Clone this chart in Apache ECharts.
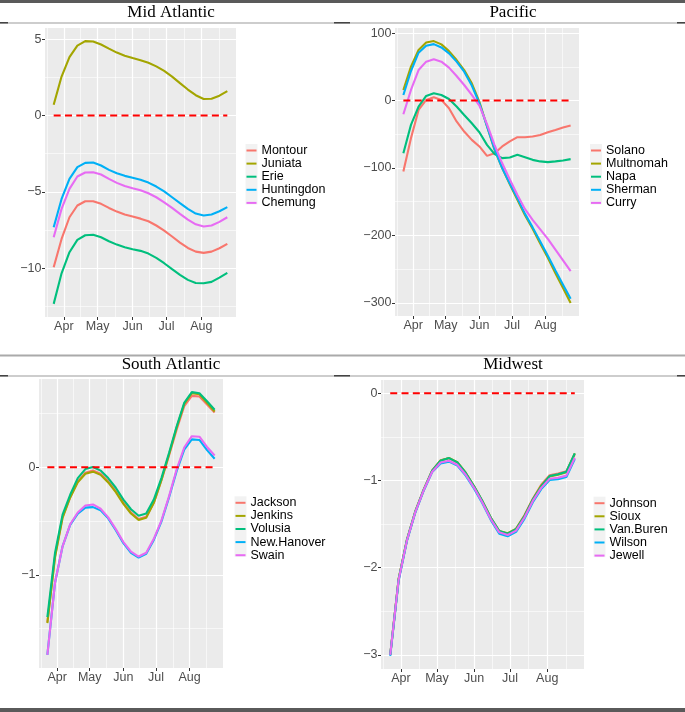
<!DOCTYPE html>
<html>
<head>
<meta charset="utf-8">
<script src="https://cdn.jsdelivr.net/npm/echarts@6/dist/echarts.min.js"></script>
<style>
html,body{margin:0;padding:0;background:#fff;}
#chart{width:685px;height:712px;}
</style>
</head>
<body>
<div id="chart"></div>
<script>
// ---- shared x axis (day of year, weekly points) ----
const weekDays = [82, 89, 96, 103, 110, 117, 124, 131, 138, 145, 152, 159, 166, 173, 180, 187, 194, 201, 208, 215, 222, 229, 236];
const monthTicks = [91, 121, 152, 182, 213];
const monthLabels = ['Apr', 'May', 'Jun', 'Jul', 'Aug'];
const monthMinor = [76, 106, 136.5, 167, 197.5, 228.5];

// ---- Mid Atlantic ----
const midAtlNames = ['Montour', 'Juniata', 'Erie', 'Huntingdon', 'Chemung'];
const montour = [-9.93, -8.08, -6.66, -5.89, -5.61, -5.61, -5.78, -6.05, -6.29, -6.48, -6.61, -6.75, -6.92, -7.20, -7.53, -7.92, -8.32, -8.67, -8.91, -8.99, -8.91, -8.69, -8.40];
const juniata = [0.70, 2.55, 3.82, 4.58, 4.87, 4.85, 4.65, 4.38, 4.12, 3.92, 3.76, 3.62, 3.45, 3.22, 2.92, 2.55, 2.12, 1.70, 1.33, 1.08, 1.10, 1.30, 1.60];
const erie = [-12.33, -10.33, -8.95, -8.14, -7.84, -7.81, -7.97, -8.23, -8.45, -8.62, -8.75, -8.86, -9.04, -9.32, -9.67, -10.06, -10.43, -10.76, -10.96, -10.98, -10.89, -10.61, -10.30];
const huntingdon = [-7.31, -5.46, -4.15, -3.38, -3.10, -3.08, -3.27, -3.56, -3.78, -3.95, -4.08, -4.21, -4.39, -4.65, -4.96, -5.35, -5.74, -6.11, -6.42, -6.55, -6.48, -6.27, -6.00];
const chemung = [-7.97, -6.11, -4.80, -3.99, -3.73, -3.71, -3.86, -4.15, -4.41, -4.61, -4.76, -4.89, -5.09, -5.35, -5.68, -6.05, -6.44, -6.81, -7.12, -7.27, -7.20, -6.96, -6.66];
const midAtlMajor = [-10, -5, 0, 5];
const midAtlMinor = [-12.5, -7.5, -2.5, 2.5];

// ---- Pacific ----
const pacificNames = ['Solano', 'Multnomah', 'Napa', 'Sherman', 'Curry'];
const solano = [-105, -55.7, -13.9, 1, 4.9, 1, -11.4, -31, -45.9, -58.3, -68, -82, -78, -68, -60.6, -54.3, -54.3, -53.3, -50.9, -46.9, -43.5, -40, -37];
const multnomah = [15.7, 50.3, 74.9, 86.2, 88.2, 83.3, 73.4, 60.1, 45.3, 25.6, -2, -38, -73, -100, -124, -147, -170, -190, -212, -233, -256, -278, -300];
const napa = [-78, -36, -8.9, 6.9, 10.8, 8.3, 2.4, -8.9, -21.3, -33.6, -46.9, -65.7, -79.4, -85.3, -84.3, -80.5, -83.9, -87.9, -90.2, -91.3, -90.2, -88.8, -86.8];
const sherman = [8.3, 43.8, 71, 81.4, 83.7, 78.8, 70, 57.7, 42.9, 22.2, -4, -38, -72, -100, -123, -145, -168, -188, -209, -230, -252, -273, -294];
const curry = [-20.3, 15.7, 45.3, 57.7, 61.1, 57.7, 48.8, 36.4, 23.1, 8.3, -7.4, -35, -66, -93, -117, -140, -161, -177, -191, -205, -221, -237, -253];
const pacificMajor = [-300, -200, -100, 0, 100];
const pacificMinor = [-250, -150, -50, 50];

// ---- South Atlantic ----
const southAtlNames = ['Jackson', 'Jenkins', 'Volusia', 'New.Hanover', 'Swain'];
const jackson = [-1.44, -0.83, -0.46, -0.28, -0.13, -0.05, -0.03, -0.06, -0.13, -0.22, -0.33, -0.42, -0.48, -0.46, -0.33, -0.12, 0.11, 0.35, 0.57, 0.665, 0.66, 0.585, 0.51];
const jenkins = [-1.45, -0.84, -0.47, -0.28, -0.14, -0.06, -0.04, -0.07, -0.14, -0.23, -0.34, -0.43, -0.49, -0.47, -0.33, -0.12, 0.12, 0.37, 0.59, 0.69, 0.68, 0.60, 0.52];
const volusia = [-1.394, -0.80, -0.44, -0.255, -0.10, -0.016, 0.003, -0.03, -0.10, -0.19, -0.30, -0.39, -0.45, -0.43, -0.30, -0.10, 0.133, 0.38, 0.60, 0.70, 0.69, 0.615, 0.536];
const newHanover = [-1.745, -1.077, -0.735, -0.535, -0.43, -0.375, -0.37, -0.40, -0.475, -0.585, -0.705, -0.795, -0.84, -0.805, -0.675, -0.505, -0.28, -0.035, 0.165, 0.26, 0.255, 0.16, 0.08];
const swain = [-1.745, -1.077, -0.735, -0.53, -0.42, -0.355, -0.345, -0.385, -0.465, -0.575, -0.695, -0.785, -0.83, -0.795, -0.665, -0.495, -0.27, -0.02, 0.185, 0.29, 0.285, 0.19, 0.11];
const southAtlMajor = [-1, 0];
const southAtlMinor = [-1.5, -0.5, 0.5];

// ---- Midwest ----
const midwestNames = ['Johnson', 'Sioux', 'Van.Buren', 'Wilson', 'Jewell'];
const johnson = [-3.00, -2.13, -1.675, -1.35, -1.10, -0.885, -0.77, -0.745, -0.795, -0.915, -1.07, -1.245, -1.435, -1.585, -1.61, -1.555, -1.40, -1.21, -1.05, -0.94, -0.92, -0.895, -0.70];
const sioux = [-3.00, -2.13, -1.68, -1.355, -1.105, -0.888, -0.772, -0.742, -0.79, -0.912, -1.066, -1.238, -1.428, -1.58, -1.605, -1.555, -1.405, -1.215, -1.06, -0.955, -0.935, -0.905, -0.69];
const vanBuren = [-3.00, -2.136, -1.68, -1.355, -1.106, -0.889, -0.775, -0.744, -0.794, -0.915, -1.069, -1.24, -1.43, -1.58, -1.61, -1.56, -1.41, -1.22, -1.07, -0.95, -0.93, -0.90, -0.69];
const wilson = [-3.01, -2.15, -1.69, -1.365, -1.115, -0.905, -0.805, -0.785, -0.83, -0.945, -1.095, -1.265, -1.455, -1.61, -1.64, -1.59, -1.44, -1.25, -1.10, -0.995, -0.985, -0.96, -0.755];
const jewell = [-3.00, -2.14, -1.685, -1.36, -1.11, -0.90, -0.795, -0.775, -0.82, -0.935, -1.085, -1.255, -1.445, -1.595, -1.625, -1.575, -1.425, -1.235, -1.085, -0.98, -0.97, -0.945, -0.74];
const midwestMajor = [-3, -2, -1, 0];
const midwestMinor = [-2.5, -1.5, -0.5];

const hueColors = ['#F8766D', '#A3A500', '#00BF7D', '#00B0F6', '#E76BF3'];

// ---- panels (layout) ----
const panels = [
  {title: 'Mid Atlantic', tx: 171, ty: 4.5, names: midAtlNames, values: [montour, juniata, erie, huntingdon, chemung],
   major: midAtlMajor, minor: midAtlMinor, grid: {left: 45, top: 28, width: 191, height: 289},
   legend: {left: 246.5, top: 144}},
  {title: 'Pacific', tx: 513, ty: 4.5, names: pacificNames, values: [solano, multnomah, napa, sherman, curry],
   major: pacificMajor, minor: pacificMinor, grid: {left: 395, top: 28, width: 184, height: 288},
   legend: {left: 591, top: 144}},
  {title: 'South Atlantic', tx: 171, ty: 356.5, names: southAtlNames, values: [jackson, jenkins, volusia, newHanover, swain],
   major: southAtlMajor, minor: southAtlMinor, grid: {left: 39, top: 379, width: 184, height: 289},
   legend: {left: 235.5, top: 496.3}},
  {title: 'Midwest', tx: 513, ty: 356.5, names: midwestNames, values: [johnson, sioux, vanBuren, wilson, jewell],
   major: midwestMajor, minor: midwestMinor, grid: {left: 381, top: 380, width: 203, height: 289},
   legend: {left: 594.5, top: 496.7}}
];

const xPad = (weekDays[weekDays.length - 1] - weekDays[0]) * 0.05;
const xMin = weekDays[0] - xPad;
const xMax = weekDays[weekDays.length - 1] + xPad;
const minus = v => String(v).replace('-', '\u2212');
const labelFont = 'Liberation Sans, Arial, sans-serif';

const option = {
  animation: false,
  title: [], grid: [], xAxis: [], yAxis: [], series: [], legend: [],
  graphic: { elements: [] }
};

panels.forEach((p, i) => {
  let lo = 0, hi = 0;
  p.values.forEach(arr => arr.forEach(v => { lo = Math.min(lo, v); hi = Math.max(hi, v); }));
  const pad = (hi - lo) * 0.05;
  const yMin = lo - pad, yMax = hi + pad;

  option.title.push({
    text: p.title, left: p.tx, top: p.ty, textAlign: 'center', padding: 0,
    textStyle: {fontFamily: 'Liberation Serif, Times New Roman, serif', fontSize: 17, fontWeight: 'normal', color: '#000'}
  });
  option.grid.push(Object.assign({show: true, backgroundColor: '#EBEBEB', borderWidth: 0, containLabel: false, outerBoundsMode: 'none'}, p.grid));

  // main x axis
  option.xAxis.push({
    gridIndex: i, type: 'value', min: xMin, max: xMax,
    axisLine: {show: false, onZero: false},
    axisTick: {show: true, length: 3, customValues: monthTicks, lineStyle: {color: '#333333', width: 1}},
    axisLabel: {customValues: monthTicks, formatter: v => monthLabels[monthTicks.indexOf(v)],
      color: '#4D4D4D', fontSize: 12.5, fontFamily: labelFont, margin: 3},
    splitLine: {show: true, lineStyle: {color: '#FFFFFF', width: 1.2}}
  });
  // minor x axis (grid only)
  option.xAxis.push({
    gridIndex: i, type: 'value', min: xMin, max: xMax, position: 'bottom',
    axisLine: {show: false, onZero: false},
    axisTick: {show: false, customValues: monthMinor},
    axisLabel: {show: false},
    splitLine: {show: true, lineStyle: {color: '#FFFFFF', width: 0.6}}
  });
  option.yAxis.push({
    gridIndex: i, type: 'value', min: yMin, max: yMax,
    axisLine: {show: false, onZero: false},
    axisTick: {show: true, length: 3, customValues: p.major, lineStyle: {color: '#333333', width: 1}},
    axisLabel: {customValues: p.major, formatter: minus, color: '#4D4D4D', fontSize: 12.5, fontFamily: labelFont, margin: 3.5},
    splitLine: {show: true, lineStyle: {color: '#FFFFFF', width: 1.2}}
  });
  option.yAxis.push({
    gridIndex: i, type: 'value', min: yMin, max: yMax, position: 'left',
    axisLine: {show: false, onZero: false},
    axisTick: {show: false, customValues: p.minor},
    axisLabel: {show: false},
    splitLine: {show: true, lineStyle: {color: '#FFFFFF', width: 0.6}}
  });

  p.names.forEach((name, k) => {
    option.series.push({
      name: name, type: 'line', xAxisIndex: 2 * i, yAxisIndex: 2 * i,
      data: weekDays.map((d, j) => [d, p.values[k][j]]),
      showSymbol: false, symbol: 'none', smooth: false, z: 2,
      itemStyle: {color: hueColors[k]},
      lineStyle: {color: hueColors[k], width: 2.1},
      emphasis: {disabled: true}, silent: true
    });
  });
  option.series.push({
    name: 'zero' + i, type: 'line', xAxisIndex: 2 * i, yAxisIndex: 2 * i,
    data: [[weekDays[0], 0], [weekDays[weekDays.length - 1], 0]],
    showSymbol: false, symbol: 'none', z: 3,
    lineStyle: {color: '#FF0000', width: 2, type: [7, 4.3]},
    emphasis: {disabled: true}, silent: true
  });

  option.legend.push({
    orient: 'vertical', left: p.legend.left, top: p.legend.top, padding: 0,
    itemGap: 0.1, itemWidth: 10, itemHeight: 2, icon: 'rect', selectedMode: false,
    data: p.names,
    textStyle: {fontSize: 12.5, color: '#000', fontFamily: labelFont, lineHeight: 12}
  });
  // legend key backgrounds
  option.graphic.elements.push({
    type: 'rect', z: -1, silent: true,
    shape: {x: p.legend.left - 1, y: p.legend.top, width: 12, height: 60.5},
    style: {fill: '#F2F2F2'}
  });
});

// table rules
const g = option.graphic.elements;
const rule = (x, y, w, h, fill) => g.push({type: 'rect', silent: true, z: -1, shape: {x, y, width: w, height: h}, style: {fill}});
rule(0, 0, 685, 3, '#5a5a5a');
rule(0, 22.5, 685, 1, '#9c9c9c');
[[0, 8], [334, 16], [677, 8]].forEach(s => rule(s[0], 22, s[1], 1.5, '#444'));
rule(0, 354.5, 685, 2, '#aaaaaa');
rule(0, 375.5, 685, 1, '#9c9c9c');
[[0, 8], [334, 16], [677, 8]].forEach(s => rule(s[0], 375, s[1], 1.5, '#444'));
rule(0, 708, 685, 4, '#5a5a5a');

const chart = echarts.init(document.getElementById('chart'), null, {renderer: 'canvas'});
chart.setOption(option);
</script>
</body>
</html>
